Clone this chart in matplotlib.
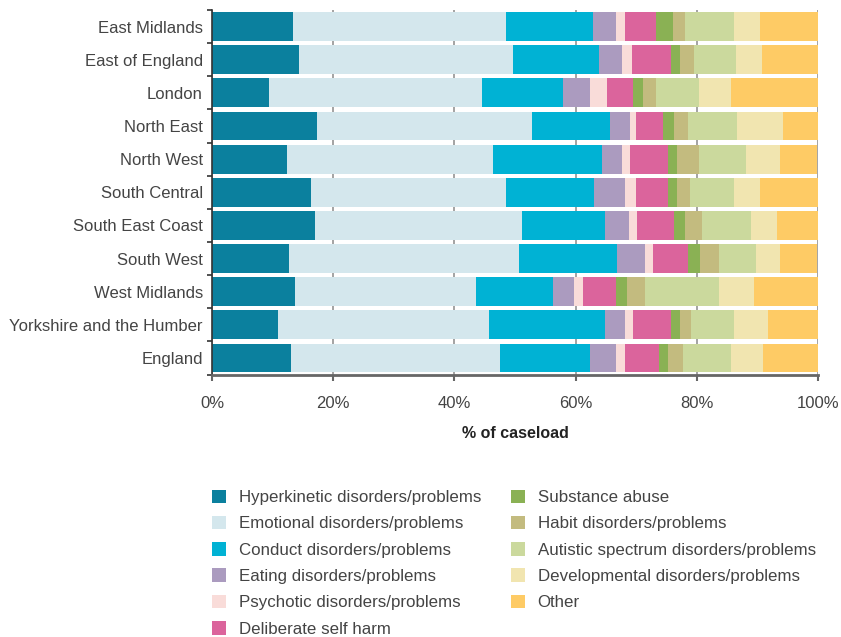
import matplotlib
matplotlib.use("Agg")
import matplotlib.pyplot as plt
import numpy as np
from matplotlib.patches import Patch

plt.rcParams['font.family'] = ['Liberation Sans', 'DejaVu Sans']

# regions, top to bottom
regions = ['East Midlands', 'East of England', 'London', 'North East', 'North West',
           'South Central', 'South East Coast', 'South West', 'West Midlands',
           'Yorkshire and the Humber', 'England']

# share of caseload (%) per problem type, one value per region
hyperkinetic  = [13.3, 14.3, 9.4, 17.3, 12.3, 16.3, 17.0, 12.7, 13.7, 10.9, 13.0]
emotional     = [35.2, 35.4, 35.2, 35.5, 34.1, 32.2, 34.2, 38.0, 29.9, 34.8, 34.6]
conduct       = [14.3, 14.1, 13.4, 12.8, 18.0, 14.6, 13.6, 16.2, 12.6, 19.1, 14.8]
eating        = [3.8, 3.8, 4.3, 3.4, 3.3, 5.0, 4.0, 4.5, 3.6, 3.3, 4.2]
psychotic     = [1.5, 1.7, 2.8, 0.9, 1.3, 1.8, 1.4, 1.4, 1.5, 1.3, 1.5]
self_harm     = [5.1, 6.4, 4.4, 4.6, 6.3, 5.4, 6.1, 5.7, 5.4, 6.3, 5.7]
substance     = [2.8, 1.6, 1.7, 1.8, 1.4, 1.5, 1.8, 2.1, 1.7, 1.5, 1.5]
habit         = [2.1, 2.3, 2.0, 2.3, 3.6, 2.0, 2.7, 3.0, 3.1, 1.9, 2.5]
autistic      = [8.0, 6.8, 7.1, 8.1, 7.9, 7.3, 8.1, 6.1, 12.1, 7.0, 7.9]
developmental = [4.3, 4.3, 5.4, 7.6, 5.5, 4.3, 4.3, 4.0, 5.9, 5.7, 5.3]
other         = [9.6, 9.3, 14.3, 5.7, 6.1, 9.6, 6.8, 6.1, 10.5, 8.2, 9.0]

categories = ['Hyperkinetic disorders/problems', 'Emotional disorders/problems',
              'Conduct disorders/problems', 'Eating disorders/problems',
              'Psychotic disorders/problems', 'Deliberate self harm',
              'Substance abuse', 'Habit disorders/problems',
              'Autistic spectrum disorders/problems',
              'Developmental disorders/problems', 'Other']
series = [hyperkinetic, emotional, conduct, eating, psychotic, self_harm,
          substance, habit, autistic, developmental, other]
colors = ['#0b809e', '#d4e7ed', '#00b2d4', '#ab9bbf', '#f9dcd9', '#db649c',
          '#8ab154', '#c3bb7f', '#cbd99d', '#f1e5b0', '#fecb65']

text_col = '#444444'

fig = plt.figure(figsize=(8.41, 6.37), dpi=100)
ax = fig.add_axes([212 / 841, 1 - 374.5 / 637, 606 / 841, 364.5 / 637])

y = np.arange(len(regions))
left = np.zeros(len(regions))
for vals, col, name in zip(series, colors, categories):
    ax.barh(y, vals, left=left, height=0.87, color=col, label=name, zorder=2)
    left += np.array(vals)

ax.set_xlim(0, 100)
ax.set_ylim(len(regions) - 0.5, -0.5)
ax.set_xticks(np.arange(0, 101, 20))
ax.set_xticklabels([f'{v}%' for v in range(0, 101, 20)])
ax.set_yticks(y)
ax.set_yticklabels(regions)
ax.set_yticks(np.arange(-0.5, len(regions), 1), minor=True)

ax.grid(axis='x', color='#8a8a8a', linewidth=1.1, zorder=0)
ax.set_axisbelow(True)

for s in ['top', 'right']:
    ax.spines[s].set_visible(False)
ax.spines['left'].set_color('#333333')
ax.spines['left'].set_linewidth(1.2)
ax.spines['bottom'].set_color('#666666')
ax.spines['bottom'].set_linewidth(2)

ax.tick_params(axis='y', which='major', length=0, pad=6.5, labelsize=12, labelcolor=text_col)
ax.tick_params(axis='y', which='minor', length=3.5, width=1.2, color='#333333')
ax.tick_params(axis='x', length=4, width=1.5, color='#666666', pad=11.5,
               labelsize=12, labelcolor=text_col)

ax.set_xlabel('% of caseload', fontsize=11.5, fontweight='bold', color='#222222', labelpad=11)

handles = [Patch(facecolor=c, edgecolor='none') for c in colors]
fig.legend(handles, categories, loc='upper left', bbox_to_anchor=(212 / 841, 1 - 489.5 / 637),
           ncol=2, frameon=False, fontsize=12.2, labelcolor=text_col,
           handlelength=0.85, handleheight=0.85, handletextpad=0.75,
           labelspacing=0.63, columnspacing=1.72, borderpad=0, borderaxespad=0)

fig.savefig('out.png', dpi=100)
